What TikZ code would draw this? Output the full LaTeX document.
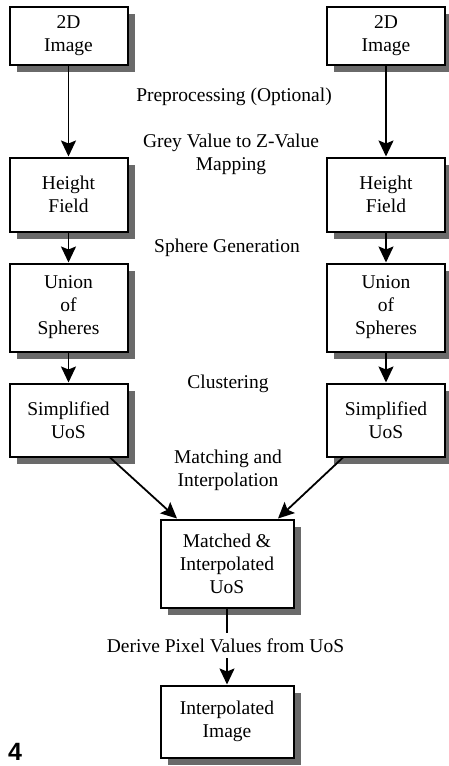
\documentclass[tikz,border=0pt]{standalone}
\usepackage{fontspec}
\setmainfont{Liberation Serif}
\newfontfamily\labelsans{Liberation Sans}
\usetikzlibrary{arrows.meta,shadows}
\definecolor{shadowgray}{HTML}{6A6A6A}
\begin{document}
\begin{tikzpicture}[x=1pt,y=-1pt,
  txt/.style={font=\fontsize{19.5}{23}\selectfont},
  box/.style={txt, draw, line width=2pt, fill=white, align=center, inner sep=0pt,
    drop shadow={shadow xshift=7pt, shadow yshift=-7pt, fill=shadowgray, opacity=1}},
  lbl/.style={txt, align=center, inner sep=0pt},
  arr/.style={-{Stealth[length=16pt,width=15pt,inset=3pt]}, line width=1.8pt}]
\useasboundingbox (0,0) rectangle (449,766);
% left column
\node[box, minimum width=118pt, minimum height=58pt] (L1) at (68.5,35.5) {2D\\Image};
\node[box, minimum width=118pt, minimum height=74pt] (L2) at (68.5,194.5) {Height\\Field};
\node[box, minimum width=118pt, minimum height=88pt] (L3) at (68.5,307.5) {Union\\of\\Spheres};
\node[box, minimum width=118pt, minimum height=73pt] (L4) at (68.5,420) {Simplified\\UoS};
% right column
\node[box, minimum width=118pt, minimum height=58pt] (R1) at (386,35.5) {2D\\Image};
\node[box, minimum width=118pt, minimum height=74pt] (R2) at (386,194.5) {Height\\Field};
\node[box, minimum width=118pt, minimum height=88pt] (R3) at (386,307.5) {Union\\of\\Spheres};
\node[box, minimum width=118pt, minimum height=73pt] (R4) at (386,420) {Simplified\\UoS};
% centre
\node[box, minimum width=133pt, minimum height=88pt] (M) at (227,563.5) {Matched \&\\Interpolated\\UoS};
\node[box, minimum width=133pt, minimum height=72pt] (F) at (227,721.5) {Interpolated\\Image};
% arrows
\draw[arr] (L1) -- (L2);
\draw[arr] (L2) -- (L3);
\draw[arr] (L3) -- (L4);
\draw[arr] (R1) -- (R2);
\draw[arr] (R2) -- (R3);
\draw[arr] (R3) -- (R4);
\draw[arr] ([xshift=41.5pt]L4.south) -- ([xshift=-50pt]M.north);
\draw[arr] ([xshift=-43pt]R4.south) -- ([xshift=51pt]M.north);
\draw[arr] (M) -- (F);
% labels
\node[lbl, anchor=base] (p1) at (234,101) {Preprocessing (Optional)};
\node[lbl] (p2) at (231,154) {Grey Value to Z-Value\\Mapping};
\node[lbl, anchor=base] (p3) at (227,252) {Sphere Generation};
\node[lbl, anchor=base] (p4) at (228,388) {Clustering};
\node[lbl] (p5) at (228,470.5) {Matching and\\Interpolation};
\node[lbl, anchor=base, fill=white, text height=19pt, text depth=6pt] (p6) at (225.5,652) {Derive Pixel Values from UoS};
\node[anchor=base west, inner sep=0pt, font=\labelsans\bfseries\fontsize{25}{25}\selectfont] (fig) at (8,760) {4};
\end{tikzpicture}
\end{document}
